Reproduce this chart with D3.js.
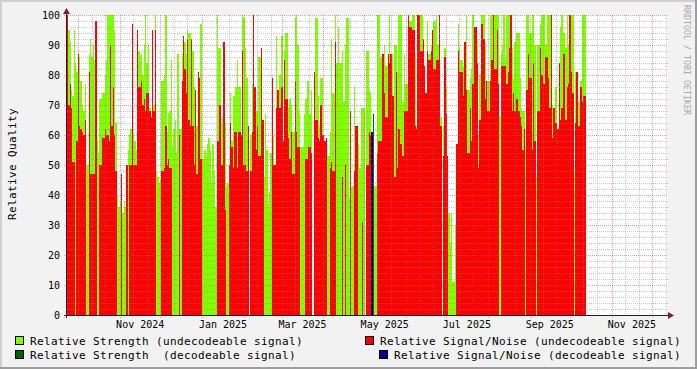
<!DOCTYPE html>
<html>
<head>
<meta charset="utf-8">
<script src="https://cdn.jsdelivr.net/npm/d3@7"></script>
<style>
  body { margin: 0; background: #f2f2f2; }
  svg text { font-family: "DejaVu Sans Mono", monospace; white-space: pre; }
</style>
</head>
<body>
<svg id="chart" width="697" height="369"></svg>
<script>
// one value per day, starting at firstDay; null = no sample
var firstDay = new Date(Date.UTC(2024, 8, 22, 16));

var strength = [
  95,95,91,75,73,95,84,81,85,86,
  78,70,68,77,50,50,87,92,86,90,
  85,90,58,54,72,72,74,74,80,85,
  100,100,100,100,100,95,64,40,36,38,
  47,34,38,36,50,55,60,62,62,60,
  58,55,60,88,86,87,80,90,100,84,
  90,69,66,68,70,100,48,46,44,45,
  78,78,80,100,61,67,68,85,56,62,
  65,54,87,62,62,87,91,91,87,95,
  94,94,90,88,76,70,63,63,63,97,
  52,52,55,53,57,59,55,44,57,48,
  36,100,89,89,64,66,66,64,43,44,
  44,74,58,73,73,76,85,76,76,60,
  100,99,89,79,57,null,60,77,77,76,
  68,68,86,86,82,50,46,67,55,37,
  41,54,56,60,46,93,67,80,80,93,
  50,88,94,94,69,72,70,61,61,99,
  100,90,67,56,56,56,67,72,78,78,
  67,75,null,54,99,99,73,63,79,79,
  58,58,53,53,53,61,92,74,74,100,
  84,96,84,84,88,71,90,99,99,39,
  68,43,43,76,58,63,57,49,69,69,
  69,null,88,88,75,74,null,null,43,43,
  100,100,86,86,74,90,83,83,71,100,
  87,87,45,90,90,81,100,100,100,71,
  87,77,77,74,98,98,100,100,87,63,
  100,100,100,100,92,83,null,98,87,87,
  90,90,98,98,100,90,100,66,null,63,
  89,76,null,34,24,34,11,11,30,null,
  97,89,85,85,83,64,100,75,75,79,
  82,100,84,84,92,60,80,100,100,100,
  90,59,78,78,100,100,100,100,100,100,
  100,66,87,90,100,85,100,100,100,100,
  89,79,91,94,94,94,79,69,68,68,
  55,100,100,94,94,100,100,90,46,90,
  90,97,100,100,100,90,100,100,100,100,
  70,64,76,76,61,78,96,100,94,94,
  89,100,90,100,100,100,48,81,81,71,
  71,78,100,100,100
];

var snr = [
  100,70,77,69,51,51,null,58,87,63,
  62,61,60,65,null,null,81,47,47,47,
  47,98,null,null,50,50,59,59,62,60,
  60,58,90,63,76,60,48,null,null,null,
  47,null,null,null,50,null,50,50,97,50,
  50,50,95,76,76,78,70,72,68,74,
  74,68,66,95,68,95,null,null,null,null,
  48,48,49,63,50,52,49,49,null,null,
  null,null,null,60,null,78,93,82,74,92,
  65,63,92,63,50,75,47,81,79,52,
  null,null,null,null,null,null,null,null,null,null,
  null,58,58,70,50,50,91,35,null,null,
  50,64,56,49,61,61,49,61,61,60,
  88,50,50,48,63,null,48,61,100,76,
  55,63,53,53,89,65,null,null,null,null,
  null,null,79,50,50,69,75,69,69,76,
  58,85,72,72,59,52,61,47,47,78,
  61,56,56,null,null,null,null,52,52,56,
  56,54,null,81,65,65,59,58,70,60,
  60,58,59,null,null,49,51,48,48,91,
  null,null,null,null,46,null,50,null,null,null,
  68,null,null,48,63,63,null,null,null,31,
  null,null,50,50,61,60,null,null,null,null,
  54,58,58,58,87,74,66,66,87,84,
  87,73,73,46,81,49,62,57,57,53,
  68,68,68,100,96,96,95,95,63,62,
  100,100,88,88,92,83,74,88,85,85,
  88,95,82,82,85,85,100,63,null,53,
  86,67,53,null,null,null,null,null,null,57,
  88,81,81,81,73,91,75,54,54,69,
  58,77,96,96,84,49,65,97,97,92,
  72,78,68,68,78,85,100,82,82,95,
  77,null,83,83,83,83,77,81,89,100,
  68,74,68,72,72,68,66,63,55,62,
  null,75,87,79,79,55,84,58,null,68,
  68,89,80,77,77,86,86,79,69,100,
  59,69,64,64,62,84,65,69,87,87,
  65,76,77,100,81,74,null,64,81,63,
  63,76,71,73,73
];

// decodeable samples are rare: day index + value
var decDays = [226, 227];
var decStrength = [null, 67];
var decSnr = [61, null];

var yTicks = [0, 10, 20, 30, 40, 50, 60, 70, 80, 90, 100];
var monthLabels = ["Nov 2024", "Jan 2025", "Mar 2025", "May 2025", "Jul 2025", "Sep 2025", "Nov 2025"];

var legendItems = [
  ["#7fff00", "Relative Strength (undecodeable signal)"],
  ["#ff0000", "Relative Signal/Noise (undecodeable signal)"],
  ["#006400", "Relative Strength  (decodeable signal)"],
  ["#000090", "Relative Signal/Noise (decodeable signal)"]
];

var svg = d3.select("#chart");
var plotL = 67, plotR = 668, plotT = 15, plotB = 315;

var x = d3.scaleUtc()
  .domain([firstDay, new Date(Date.UTC(2025, 11, 12, 19))])
  .range([plotL, plotR]);
var y = d3.scaleLinear().domain([0, 100]).range([plotB, plotT]);

// frame
svg.append("rect").attr("width", 697).attr("height", 369).attr("fill", "#f2f2f2");
var frame = svg.append("g").attr("shape-rendering", "crispEdges");
frame.append("rect").attr("x", 0).attr("y", 0).attr("width", 697).attr("height", 2).attr("fill", "#cfcfcf");
frame.append("rect").attr("x", 0).attr("y", 0).attr("width", 2).attr("height", 369).attr("fill", "#cfcfcf");
frame.append("rect").attr("x", 0).attr("y", 367).attr("width", 697).attr("height", 2).attr("fill", "#9e9e9e");
frame.append("rect").attr("x", 695).attr("y", 0).attr("width", 2).attr("height", 369).attr("fill", "#9e9e9e");

svg.append("rect")
  .attr("x", plotL).attr("y", plotT)
  .attr("width", plotR - plotL).attr("height", plotB - plotT)
  .attr("fill", "#ffffff");

function dayStart(i) { return d3.utcDay.offset(firstDay, i); }

function bars(values, days, color) {
  var pts = values.map(function (v, k) { return { v: v, i: days ? days[k] : k }; })
    .filter(function (d) { return d.v != null; });
  svg.append("g")
    .attr("shape-rendering", "crispEdges")
    .selectAll("rect")
    .data(pts)
    .enter()
    .append("rect")
    .attr("x", function (d) { return Math.round(x(dayStart(d.i))); })
    .attr("width", function (d) { return Math.round(x(dayStart(d.i + 1))) - Math.round(x(dayStart(d.i))); })
    .attr("y", function (d) { return Math.round(y(d.v)); })
    .attr("height", function (d) { return y(0) - Math.round(y(d.v)); })
    .attr("fill", color);
}

bars(strength, null, legendItems[0][0]);
bars(snr, null, legendItems[1][0]);
bars(decStrength, decDays, legendItems[2][0]);
bars(decSnr, decDays, legendItems[3][0]);

// grid on top of the data, dotted like rrdtool
var grid = svg.append("g").attr("shape-rendering", "crispEdges").attr("stroke-dasharray", "1,1");
d3.range(0, 101, 2).forEach(function (v) {
  var major = v % 10 === 0;
  grid.append("line")
    .attr("x1", major ? plotL - 3 : plotL).attr("x2", plotR)
    .attr("y1", y(v) + 0.5).attr("y2", y(v) + 0.5)
    .attr("stroke", major ? "rgba(222,79,79,0.55)" : "rgba(140,140,140,0.45)");
});
var endDay = x.domain()[1];
d3.utcMonth.range(d3.utcMonth.floor(firstDay), endDay).forEach(function (m) {
  if (m >= firstDay) {
    var px = Math.round(x(m)) + 0.5;
    grid.append("line")
      .attr("x1", px).attr("x2", px).attr("y1", plotT).attr("y2", plotB + 3)
      .attr("stroke", "rgba(222,79,79,0.55)");
  }
  [10, 20].forEach(function (k) {
    var d = d3.utcDay.offset(m, k);
    if (d <= firstDay || d >= endDay) return;
    var qx = Math.round(x(d)) + 0.5;
    grid.append("line")
      .attr("x1", qx).attr("x2", qx).attr("y1", plotT).attr("y2", plotB)
      .attr("stroke", "rgba(140,140,140,0.45)");
  });
});

// axes
var axis = svg.append("g").attr("shape-rendering", "crispEdges");
axis.append("line").attr("x1", plotL - 3).attr("x2", plotR + 3)
  .attr("y1", plotB + 0.5).attr("y2", plotB + 0.5).attr("stroke", "#1f1f3a");
axis.append("line").attr("x1", plotL - 0.5).attr("x2", plotL - 0.5)
  .attr("y1", plotB + 3).attr("y2", plotT - 4).attr("stroke", "#1f1f3a");
svg.append("path")
  .attr("d", "M" + plotR + "," + (plotB - 3) + "L" + (plotR + 6) + "," + (plotB + 0.5) + "L" + plotR + "," + (plotB + 4) + "Z")
  .attr("fill", "#801f1f");
svg.append("path")
  .attr("d", "M" + (plotL - 4) + "," + (plotT - 1) + "L" + (plotL - 0.5) + "," + (plotT - 7) + "L" + (plotL + 3) + "," + (plotT - 1) + "Z")
  .attr("fill", "#801f1f");

// tick labels
svg.append("g").selectAll("text")
  .data(yTicks)
  .enter()
  .append("text")
  .attr("x", 60)
  .attr("y", function (d) { return y(d) + 3.6; })
  .attr("text-anchor", "end")
  .style("font-size", "10px")
  .text(function (d) { return d; });

var parseMonth = d3.utcParse("%b %Y");
svg.append("g").selectAll("text")
  .data(monthLabels)
  .enter()
  .append("text")
  .attr("x", function (d) {
    var m = parseMonth(d);
    return (x(m) + x(d3.utcMonth.offset(m, 1))) / 2;
  })
  .attr("y", 328)
  .attr("text-anchor", "middle")
  .style("font-size", "10px")
  .text(function (d) { return d; });

svg.append("text")
  .attr("transform", "translate(16,164)rotate(-90)")
  .attr("text-anchor", "middle")
  .style("font-size", "11px")
  .style("letter-spacing", "0.38px")
  .text("Relative Quality");

svg.append("text")
  .attr("transform", "translate(684,5)rotate(90)")
  .style("font-size", "8.3px")
  .attr("fill", "#a8a8a8")
  .text("RRDTOOL / TOBI OETIKER");

// legend
var legendPos = [[15, 336, 30], [365, 336, 380], [15, 350, 30], [379, 350, 394]];
legendItems.forEach(function (item, k) {
  var p = legendPos[k];
  svg.append("rect")
    .attr("x", p[0] + 0.5).attr("y", p[1] + 0.5)
    .attr("width", 8).attr("height", 8)
    .attr("fill", item[0]).attr("stroke", "#000")
    .attr("shape-rendering", "crispEdges");
  svg.append("text")
    .attr("x", p[2]).attr("y", p[1] + 9)
    .style("font-size", "11px")
    .style("letter-spacing", "0.38px")
    .text(item[1]);
});
</script>
</body>
</html>
